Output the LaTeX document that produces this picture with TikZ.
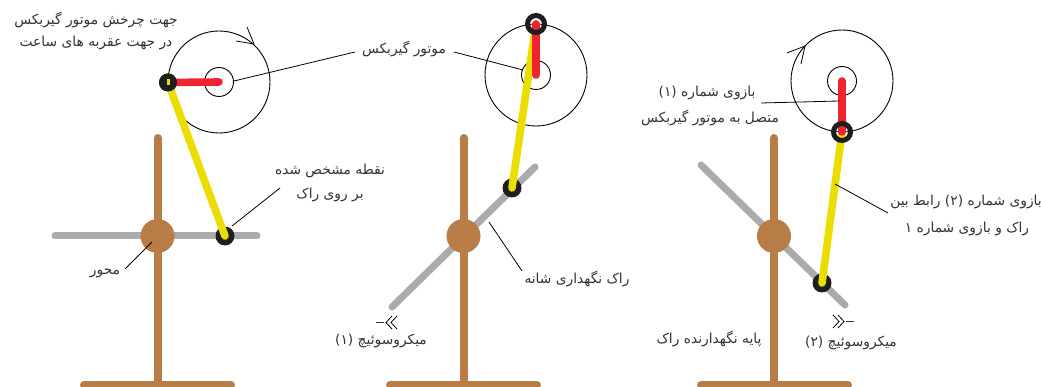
\documentclass[tikz,border=0pt]{standalone}
\usepackage{fontspec}
\usepackage{tikz}
\usetikzlibrary{positioning, arrows.meta}
\TeXXeTstate=1
\newfontfamily\arabicfont[Script=Arabic]{DejaVu Sans}
\definecolor{StandColor}{RGB}{184,125,70}
\definecolor{RackColor}{RGB}{169,171,174}
\definecolor{LinkColor}{RGB}{235,221,0}
\definecolor{ArmColor}{RGB}{238,36,48}
\definecolor{PinColor}{RGB}{31,30,31}
\definecolor{LabelColor}{RGB}{51,51,51}
\newcommand{\fa}[1]{\arabicfont\beginR #1\endR}
\tikzset{
  stand/.style={line width=8pt, StandColor, line cap=round},
  rack/.style={line width=7pt, RackColor, line cap=round},
  link/.style={line width=7.6pt, LinkColor, line cap=round},
  arm/.style={line width=7.6pt, ArmColor, line cap=round},
  hub/.style={circle, fill=StandColor, minimum size=34pt, inner sep=0pt},
  pin/.style={circle, fill=PinColor, minimum size=19pt, inner sep=0pt},
  ring/.style={circle, draw=PinColor, line width=5pt, fill=none, minimum size=17pt, inner sep=0pt},
  wheel/.style={circle, draw=black, line width=0.9pt, minimum size=102pt, inner sep=0pt},
  shaft/.style={circle, draw=black, line width=0.9pt, minimum size=29pt, inner sep=0pt},
  leader/.style={draw=black, line width=0.8pt},
  txt/.style={font=\fontsize{13.8pt}{16pt}\selectfont, text=LabelColor, inner sep=0pt, align=center},
}
\begin{document}
\begin{tikzpicture}[x=1pt, y=-1pt]
  \useasboundingbox (0,0) rectangle (1041,387);
  % left
  \draw[rack] (55,236) -- (257,236);
  \draw[stand] (157.5,138) -- (157.5,383);
  \draw[stand] (84,385) -- (231,385);
  \node[hub] (hubA) at (157.5,236) {};
  \node[wheel] (wheelA) at (219,82) {};
  \node[shaft] (shaftA) at (219,82) {};
  \node[pin] (pinA) at (225,236) {};
  \node[pin, minimum size=18pt] (crankA) at (168,82.5) {};
  \draw[arm] (crankA.center) -- (shaftA.center);
  \draw[link] (crankA.center) -- (pinA.center);
  \node[pin, minimum size=18pt] (crankB) at (168,82.5) {};
  \draw[LinkColor, line width=3pt] (168,79.5) -- (168,85.5);
  % middle
  \draw[rack] (392,307) -- (535,167);
  \draw[stand] (463.5,138) -- (463.5,383);
  \draw[stand] (390,385) -- (537,385);
  \node[hub] (hubB) at (463.5,236) {};
  \node[wheel] (wheelB) at (536,75) {};
  \node[shaft] (shaftB) at (536,75) {};
  \node[pin] (pinB) at (512,188) {};
  \coordinate (crankC) at (536,24);
  \draw[link] (crankC) -- (pinB.center);
  \draw[arm] (crankC) -- (shaftB.center);
  \node[ring] (ringB) at (crankC) {};
  % right
  \draw[rack] (701,165) -- (845,305);
  \draw[stand] (774,138) -- (774,383);
  \draw[stand] (701,385) -- (848,385);
  \node[hub] (hubC) at (774,236) {};
  \node[wheel] (wheelC) at (842,81) {};
  \node[shaft] (shaftC) at (842,81) {};
  \node[pin] (pinC) at (822,283) {};
  \coordinate (crankD) at (842,132);
  \draw[link] (crankD) -- (pinC.center);
  \draw[arm] (shaftC.center) -- (crankD);
  \node[ring] (ringC) at (crankD) {};
  % rotation
  \coordinate (tipA) at (254,44);
  \coordinate (tipB) at (805,46);
  \draw[leader] (247,27) -- (tipA) -- (236,41);
  \draw[leader] (787,53) -- (tipB) -- (801,64);
  % switch marks
  \draw[leader] (392,316) -- (386,322.5) -- (392,329);
  \draw[leader] (397,316) -- (391,322.5) -- (397,329);
  \draw[LabelColor, line width=0.8pt] (376,322.5) -- (384,322.5);
  \draw[leader] (833,315) -- (839,321.5) -- (833,328);
  \draw[leader] (838,315) -- (844,321.5) -- (838,328);
  \draw[LabelColor, line width=0.8pt] (846,321.5) -- (854,321.5);
  % labels
  \node[txt] (dirA) at (96,20) {\fa{جهت چرخش موتور گیربکس}};
  \node[txt] (dirB) at (96,43) {\fa{در جهت عقربه های ساعت}};
  \node[txt] (motor) at (404,49) {\fa{موتور گیربکس}};
  \node[txt] (markA) at (330,171) {\fa{نقطه مشخص شده}};
  \node[txt] (markB) at (330,195) {\fa{بر روی راک}};
  \node[txt] (axis) at (105,273) {\fa{محور}};
  \node[txt] (holder) at (577,279) {\fa{راک نگهداری شانه}};
  \node[txt] (switchA) at (381,341) {\fa{میکروسوئیچ (۱)}};
  \node[txt] (switchB) at (851,343) {\fa{میکروسوئیچ (۲)}};
  \node[txt] (base) at (709,339) {\fa{پایه نگهدارنده راک}};
  \node[txt] (armA) at (707,93) {\fa{بازوی شماره (۱)}};
  \node[txt] (armB) at (710,118) {\fa{متصل به موتور گیربکس}};
  \node[txt] (linkA) at (966,202) {\fa{بازوی شماره (۲) رابط بین}};
  \node[txt] (linkB) at (967,229) {\fa{راک و بازوی شماره ۱}};
  % leaders
  \coordinate (l1) at (355,52);
  \coordinate (l2) at (234,81);
  \coordinate (l3) at (454,52);
  \coordinate (l4) at (523,70);
  \coordinate (l5) at (280,188);
  \coordinate (l6) at (232,226);
  \coordinate (l7) at (125,269);
  \coordinate (l8) at (152,242);
  \coordinate (l9) at (489,222);
  \coordinate (l10) at (522,271);
  \coordinate (l11) at (761,103);
  \coordinate (l12) at (839,101);
  \coordinate (l13) at (835,184);
  \coordinate (l14) at (888,213);
  \draw[leader] (l1) -- (l2);
  \draw[leader] (l3) -- (l4);
  \draw[leader] (l5) -- (l6);
  \draw[leader] (l7) -- (l8);
  \draw[leader] (l9) -- (l10);
  \draw[leader] (l11) -- (l12);
  \draw[leader] (l13) -- (l14);
\end{tikzpicture}
\end{document}
